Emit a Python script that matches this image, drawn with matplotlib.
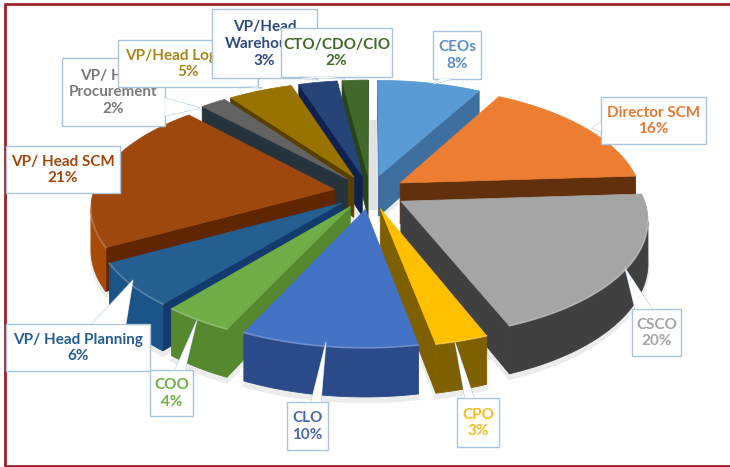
import matplotlib
matplotlib.use("Agg")
import matplotlib.pyplot as plt
import numpy as np
from matplotlib.patches import Polygon, Rectangle

etiquetas = ["CEOs", "Director SCM", "CSCO", "CPO", "CLO", "COO", "VP/ Head Planning",
             "VP/ Head SCM", "VP/ Head\nProcurement", "VP/Head Logistics",
             "VP/Head\nWarehouse", "CTO/CDO/CIO"]
valores = [8, 16, 20, 3, 10, 4, 6, 21, 2, 5, 3, 2]

color_cara = ["#5b9bd5", "#ed7d31", "#a5a5a5", "#ffc000", "#4472c4", "#70ad47",
              "#255e91", "#9e480e", "#636363", "#997300", "#264478", "#43682b"]
color_borde = ["#41719c", "#a04f17", "#404040", "#7f6000", "#2a4a8a", "#55882f",
               "#1a5488", "#a84a08", "#3c3c3c", "#7f6000", "#1b3163", "#33511f"]
color_corte = ["#3f6f9f", "#63300d", "#404040", "#7f6000", "#2a4a8a", "#55882f",
               "#123a6c", "#5f2600", "#26323c", "#5a4000", "#10204f", "#28451a"]
color_texto = ["#5b8fc5", "#e07b35", "#a5a5a5", "#f5bd1f", "#4a66ad", "#70ad47",
               "#255e91", "#9e480e", "#7a7a7a", "#a8861c", "#2f4a80", "#43682b"]

# caja de cada etiqueta: x, y, ancho, alto (pixeles de la imagen)
cajas = [(433, 31, 48, 48), (601, 97, 105, 47), (632, 309, 49, 47), (457, 398, 42, 49),
         (287, 402, 41, 48), (150, 370, 43, 46), (6, 324, 144, 47), (6, 146, 114, 47),
         (62, 58, 103, 68), (118, 40, 140, 47), (212, 9, 105, 69), (281, 28, 111, 49)]
# punta de cada globo y base sobre la caja
puntas = [((433, 84), (440, 79), (452, 79)), ((592, 128), (601, 122), (601, 132)),
          ((625, 268), (635, 309), (652, 309)), ((455, 342), (465, 398), (474, 398)),
          ((326, 342), (311, 402), (321, 402)), ((197, 320), (175, 370), (185, 370)),
          ((133, 280), (92, 324), (126, 324)), None,
          ((200, 108), (165, 98), (165, 116)), ((262, 88), (248, 87), (256, 87)),
          ((318, 80), (300, 78), (312, 78)), ((345, 79), (300, 77), (330, 77))]
orden_cajas = [7, 8, 9, 10, 11, 0, 1, 2, 3, 4, 5, 6]

# geometria de la torta en perspectiva
cx, cy = 370, 192
rx, ry = 241, 113.4
k = 0.143
sep = 0.15
alto = 41


def proyectar(x, v, z=0.0):
    # x a la derecha, v hacia el frente, z hacia abajo
    s = 1 / (1 - k * v)
    return cx + rx * x * s, cy + ry * v * s + alto * z * s


def area(p):
    x, y = np.array(p).T
    return 0.5 * np.sum(x * np.roll(y, -1) - np.roll(x, -1) * y)


def contorno(a0, a1):
    medio = (a0 + a1) / 2
    ox, ov = sep * np.sin(medio), -sep * np.cos(medio)
    th = np.linspace(a0, a1, 60)
    xs = np.concatenate([[ox], ox + np.sin(th)])
    vs = np.concatenate([[ov], ov - np.cos(th)])
    return xs, vs


def dibujar_sombra(ax, a0, a1):
    xs, vs = contorno(a0, a1)
    p = [proyectar(x, v, 1.1) for x, v in zip(xs, vs)]
    ax.add_patch(Polygon(p, closed=True, facecolor="#ececec", edgecolor="#ececec", linewidth=2))


def dibujar_porcion(ax, a0, a1, cara, borde, corte):
    xs, vs = contorno(a0, a1)
    n = len(xs)
    sup = [proyectar(xs[i], vs[i]) for i in range(n)]
    signo = np.sign(area(sup))

    # lados del corte, solo los que miran al frente
    for i, j in [(0, 1), (n - 1, 0)]:
        quad = [proyectar(xs[i], vs[i]), proyectar(xs[j], vs[j]),
                proyectar(xs[j], vs[j], 1), proyectar(xs[i], vs[i], 1)]
        if np.sign(area(quad)) != signo:
            ax.add_patch(Polygon(quad, closed=True, facecolor=corte, edgecolor=corte,
                                 linewidth=0.6))

    # borde curvo: se juntan los tramos visibles en un solo poligono
    tramo = []
    for i in range(1, n - 1):
        quad = [proyectar(xs[i], vs[i]), proyectar(xs[i + 1], vs[i + 1]),
                proyectar(xs[i + 1], vs[i + 1], 1), proyectar(xs[i], vs[i], 1)]
        if np.sign(area(quad)) != signo:
            tramo.append(i)
    if tramo:
        ids = tramo + [tramo[-1] + 1]
        arriba = [proyectar(xs[i], vs[i]) for i in ids]
        abajo = [proyectar(xs[i], vs[i], 1) for i in ids[::-1]]
        ax.add_patch(Polygon(arriba + abajo, closed=True, facecolor=borde, edgecolor=borde,
                             linewidth=0.6))

    ax.add_patch(Polygon(sup, closed=True, facecolor=cara, edgecolor=cara, linewidth=0.5))

    # brillo sobre el canto frontal
    if tramo:
        bx, by = zip(*[proyectar(xs[i], vs[i]) for i in ids])
        ax.plot(bx, by, color="white", alpha=0.22, linewidth=1.3)


fig = plt.figure(figsize=(7.3, 4.67), dpi=100)
ax = fig.add_axes([0, 0, 1, 1])
ax.set_xlim(0, 730)
ax.set_ylim(467, 0)
ax.axis("off")

# marco rojo oscuro
ax.plot([5, 5], [4, 466], color="#982428", linewidth=2, solid_capstyle="butt")
ax.plot([4, 730], [4, 4], color="#982428", linewidth=2, solid_capstyle="butt")
ax.plot([4, 730], [466, 466], color="#982428", linewidth=2, solid_capstyle="butt")

# franja gris clara detras de la torta
ax.add_patch(Rectangle((369, 120), 11, 90, facecolor="#e2e2e2", edgecolor="none"))

fin = np.cumsum(valores) / np.sum(valores) * 2 * np.pi
ini = np.concatenate([[0], fin[:-1]])
medios = (ini + fin) / 2

for i in range(len(valores)):
    dibujar_sombra(ax, ini[i], fin[i])

# de atras hacia adelante
for i in np.argsort(-np.cos(medios)):
    dibujar_porcion(ax, ini[i], fin[i], color_cara[i], color_borde[i], color_corte[i])

# etiquetas con su globo
for n, i in enumerate(orden_cajas):
    x, y, w, h = cajas[i]
    z = 10 + n
    ax.add_patch(Rectangle((x, y), w, h, facecolor="white", edgecolor="#a9c4dc",
                           linewidth=1, zorder=z))
    if puntas[i] is not None:
        tip, b0, b1 = puntas[i]
        ax.plot([b0[0], tip[0], b1[0]], [b0[1], tip[1], b1[1]], color="#a9c4dc",
                linewidth=0.7, zorder=z + 0.05)
        ax.add_patch(Polygon(puntas[i], closed=True, facecolor="white", edgecolor="none",
                             zorder=z + 0.1))
    ax.text(x + w / 2, y + h / 2 + 0.5, f"{etiquetas[i]}\n{valores[i]}%", ha="center",
            va="center", color=color_texto[i], fontsize=11, fontweight="bold",
            family="Lato", linespacing=1.25, zorder=z + 0.2)

plt.savefig("out.png", dpi=100)
plt.close()
